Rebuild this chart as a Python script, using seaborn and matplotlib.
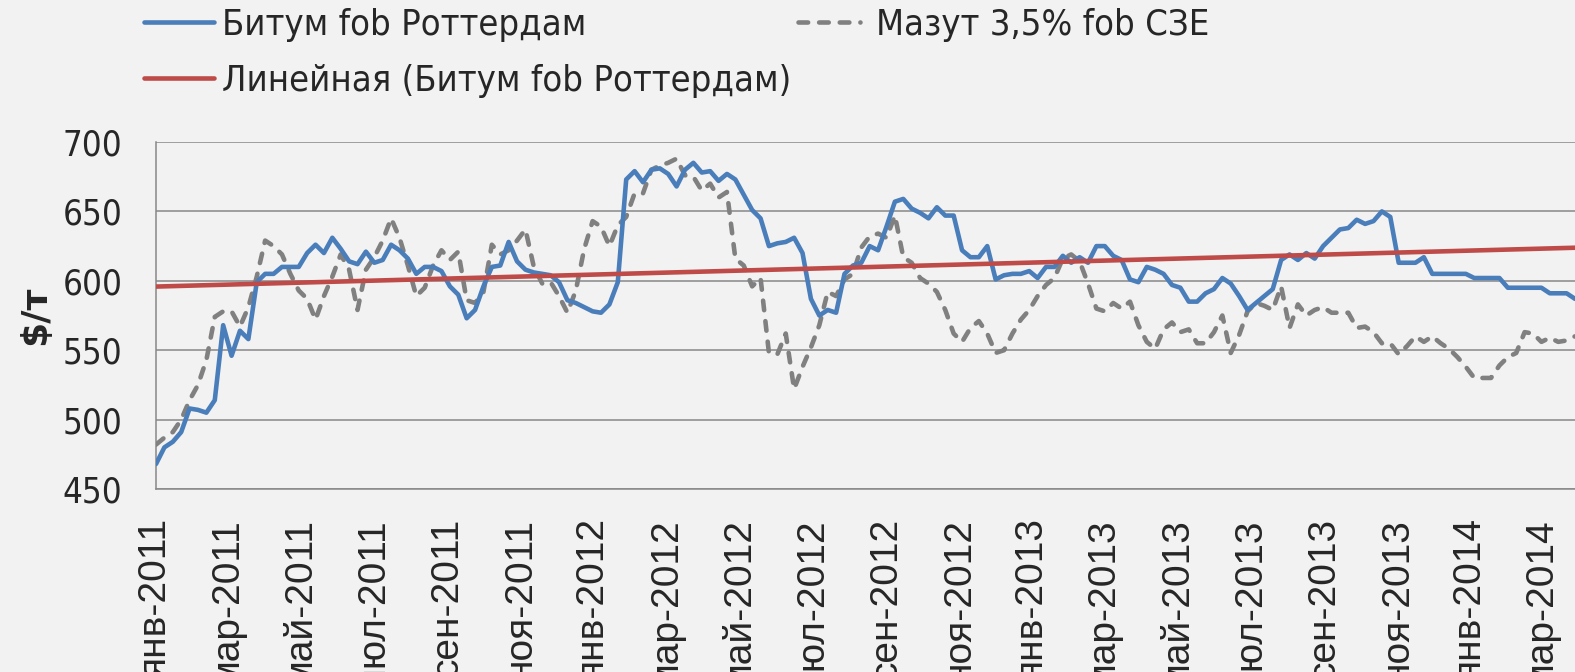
import matplotlib
matplotlib.use('Agg')
import matplotlib.pyplot as plt
import seaborn as sns
import numpy as np
import pandas as pd
from matplotlib.lines import Line2D
from matplotlib.font_manager import FontProperties

# weekly prices, $/t, Jan 2011 - Mar 2014
bitum = [
    468, 480, 484, 491, 508, 507, 505, 514, 568, 546,
    564, 558, 599, 605, 605, 610, 610, 610, 620, 626,
    620, 631, 623, 614, 612, 621, 613, 615, 626, 622,
    616, 605, 610, 610, 607, 596, 590, 573, 579, 596,
    610, 611, 628, 614, 608, 606, 605, 604, 599, 586,
    584, 581, 578, 577, 583, 599, 673, 679, 671, 680,
    681, 677, 668, 680, 685, 678, 679, 672, 677, 673,
    662, 651, 645, 625, 627, 628, 631, 620, 587, 575,
    579, 577, 605, 611, 613, 625, 622, 639, 657, 659,
    652, 649, 645, 653, 647, 647, 622, 617, 617, 625,
    601, 604, 605, 605, 607, 602, 610, 610, 618, 613,
    617, 613, 625, 625, 618, 615, 601, 599, 610, 608,
    605, 597, 595, 585, 585, 591, 594, 602, 598, 589,
    579, 584, 589, 594, 615, 619, 615, 620, 616, 625,
    631, 637, 638, 644, 641, 643, 650, 646, 613, 613,
    613, 617, 605, 605, 605, 605, 605, 602, 602, 602,
    602, 595, 595, 595, 595, 595, 591, 591, 591, 587,
]
mazut = [
    482, 487, 491, 500, 514, 525, 543, 574, 578, 578,
    567, 581, 603, 629, 625, 619, 605, 593, 587, 572,
    589, 603, 619, 608, 579, 608, 617, 629, 645, 631,
    611, 589, 595, 611, 622, 615, 621, 586, 584, 592,
    626, 619, 622, 629, 637, 610, 598, 599, 589, 577,
    593, 623, 643, 639, 625, 640, 646, 663, 663, 680,
    683, 685, 688, 676, 675, 665, 670, 660, 664, 616,
    611, 596, 602, 548, 547, 562, 522, 538, 552, 568,
    592, 589, 601, 605, 624, 632, 634, 631, 647, 617,
    613, 602, 598, 592, 579, 562, 556, 566, 571, 562,
    548, 550, 562, 572, 579, 589, 597, 602, 616, 619,
    614, 598, 580, 578, 584, 580, 585, 568, 556, 551,
    565, 570, 563, 565, 555, 555, 563, 575, 548, 561,
    578, 584, 582, 579, 596, 566, 583, 575, 579, 581,
    577, 577, 577, 566, 567, 563, 555, 555, 547, 553,
    560, 556, 560, 555, 551, 545, 538, 530, 530, 530,
    539, 545, 548, 563, 562, 556, 559, 556, 557, 560,
]
tick_labels = [
    'янв-2011', 'мар-2011', 'май-2011', 'июл-2011', 'сен-2011', 'ноя-2011',
    'янв-2012', 'мар-2012', 'май-2012', 'июл-2012', 'сен-2012', 'ноя-2012',
    'янв-2013', 'мар-2013', 'май-2013', 'июл-2013', 'сен-2013', 'ноя-2013',
    'янв-2014', 'мар-2014',
]
y_ticks = [450, 500, 550, 600, 650, 700]

dates = pd.date_range('2011-01-01', periods=len(bitum), freq='7D')
tick_pos = pd.date_range('2011-01-01', periods=len(tick_labels), freq='2MS')

# линейный тренд битума (как линия тренда в Excel)
days = (dates - dates[0]).days.values
k, b = np.polyfit(days, bitum, 1)
trend = k * days + b

c_blue = '#4a7ebb'
c_red = '#be4b48'
c_gray = '#808080'
c_bg = '#f2f2f2'
c_grid = '#888888'

sns.set_style('white')
plt.rcParams['font.family'] = ['Liberation Sans', 'DejaVu Sans']

fp_leg = FontProperties(family='DejaVu Sans', stretch='condensed', size=26)
fp_ytick = FontProperties(family='DejaVu Sans', stretch='condensed', size=25)

fig = plt.figure(figsize=(15.75, 6.72), dpi=100, facecolor=c_bg)
ax = fig.add_axes([156 / 1575, 1 - 489 / 672, (1575 - 156) / 1575, (489 - 142) / 672])
ax.set_facecolor(c_bg)

lw = 3.3
dash = (0, (2.1, 2.4))
sns.lineplot(x=dates, y=mazut, ax=ax, color=c_gray, lw=lw,
             linestyle=dash, dash_capstyle='round', zorder=3)
sns.lineplot(x=dates, y=bitum, ax=ax, color=c_blue, lw=lw, zorder=4)
sns.lineplot(x=dates, y=trend, ax=ax, color=c_red, lw=lw, zorder=5)

ax.set_xlim(dates[0], dates[-1])
ax.set_ylim(450, 700)
ax.set_yticks(y_ticks)
ax.set_yticklabels([str(v) for v in y_ticks])
for t in ax.get_yticklabels():
    t.set_fontproperties(fp_ytick)
ax.set_xticks(tick_pos)
ax.set_xticklabels(tick_labels, rotation=90, fontsize=28, va='top', ha='center')
ax.tick_params(axis='x', length=9, width=1.1, color=c_grid, pad=12)
ax.tick_params(axis='y', length=9, width=1.1, color=c_grid, pad=15)

ax.grid(True, axis='y', color=c_grid, lw=1.1)
ax.set_axisbelow(True)
for s in ['top', 'right']:
    ax.spines[s].set_visible(False)
for s in ['left', 'bottom']:
    ax.spines[s].set_color(c_grid)
    ax.spines[s].set_linewidth(1.1)

ax.set_xlabel('')
ax.set_ylabel('$/т', fontsize=26, fontweight='bold', family='DejaVu Sans')
ax.yaxis.set_label_coords(-0.073, 0.5)

h_blue = Line2D([], [], color=c_blue, lw=lw)
h_red = Line2D([], [], color=c_red, lw=lw)
h_gray = Line2D([], [], color=c_gray, lw=lw, linestyle=dash, dash_capstyle='round')

leg1 = fig.legend([h_blue, h_red], ['Битум fob Роттердам', 'Линейная (Битум fob Роттердам)'],
                  loc='upper left', bbox_to_anchor=(144 / 1575, 1 - 8 / 672), frameon=False,
                  prop=fp_leg, handlelength=1.95, handletextpad=0.2, labelspacing=0.6,
                  borderaxespad=0, borderpad=0)
leg2 = fig.legend([h_gray], ['Мазут 3,5% fob СЗЕ'],
                  loc='upper left', bbox_to_anchor=(798 / 1575, 1 - 8 / 672), frameon=False,
                  prop=fp_leg, handlelength=1.72, handletextpad=0.45,
                  borderaxespad=0, borderpad=0)

fig.savefig('out.png', dpi=100, facecolor=c_bg)
